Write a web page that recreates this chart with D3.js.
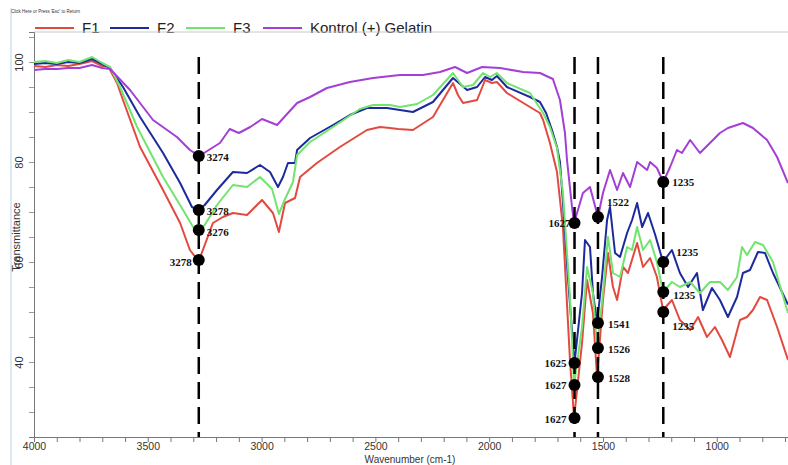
<!DOCTYPE html>
<html>
<head>
<meta charset="utf-8">
<script src="https://cdn.jsdelivr.net/npm/d3@7"></script>
<style>
  body { margin: 0; background: #fff; }
  svg { display: block; }
</style>
</head>
<body>
<div class="grap"></div>
<script>
// FTIR spectra, [wavenumber, transmittance]
const f1Data = [[4000,99.2],[3950,99.0],[3900,99.4],[3850,99.2],[3800,99.6],[3745,100.2],[3700,99.2],[3675,99.2],[3635,95.8],[3609,92.4],[3534,83],[3433,74.4],[3358,67.8],[3315,62.4],[3284,60.6],[3271,60.8],[3214,67.8],[3170,69],[3126,69.8],[3064,69.4],[2998,72.4],[2950,69.8],[2924,66],[2910,69],[2897,71.8],[2853,72.8],[2831,77],[2757,79.8],[2656,83],[2537,86.4],[2480,87],[2436,86.8],[2400,86.6],[2335,86.4],[2247,89],[2159,95.8],[2137,93.4],[2115,91.8],[2053,92.4],[2018,96.4],[1988,95.8],[1966,96],[1922,93.8],[1821,91],[1777,89.8],[1763,88.4],[1733,83.8],[1702,78],[1676,67],[1645,40.4],[1627,28.8],[1592,43.8],[1570,56.4],[1544,49.8],[1526,37],[1500,52.4],[1478,61.8],[1456,55],[1438,52.4],[1412,59],[1390,57.8],[1350,63.8],[1324,59],[1293,60.8],[1263,57],[1236,50.4],[1197,52.4],[1162,48.4],[1117,46.4],[1082,49],[1043,45],[1008,47],[977,44.4],[942,41],[898,48.4],[867,49],[841,50.4],[810,53],[779,52.4],[735,47],[687,40.4]];

const f2Data = [[4000,99.6],[3950,99.8],[3900,99.6],[3850,100],[3800,99.8],[3745,100.6],[3700,99.6],[3666,98.8],[3609,95],[3534,89],[3433,81.8],[3358,75.8],[3306,71],[3278,70.4],[3250,71.4],[3196,74.4],[3126,78],[3064,77.8],[3007,79.4],[2963,78],[2928,75],[2906,77],[2884,79.8],[2853,79.8],[2844,82.4],[2787,84.8],[2686,87.4],[2612,89.4],[2537,90.8],[2449,90.8],[2392,90.4],[2335,90],[2247,92],[2159,96.8],[2097,94.4],[2053,95],[2018,97],[1988,96.4],[1966,97.2],[1922,95],[1821,93],[1777,92],[1750,89.8],[1724,86.4],[1702,83],[1689,80],[1676,72],[1654,57],[1632,43.8],[1625,39.8],[1592,53.8],[1579,64.4],[1557,63],[1544,53.8],[1526,47.8],[1504,57],[1482,68.4],[1469,71],[1447,61.8],[1425,61],[1394,65.8],[1372,68.4],[1350,71.8],[1328,67],[1302,69.8],[1271,65.5],[1236,60],[1197,62.4],[1162,57.8],[1126,55],[1087,57.8],[1061,50.4],[1021,54.8],[986,52.4],[951,49],[911,53],[885,57.8],[854,58.4],[819,62],[788,61.8],[753,57.8],[687,51.5]];

const f3Data = [[4000,100],[3950,100.2],[3900,99.8],[3850,100.4],[3800,100],[3745,101],[3700,99.8],[3666,99],[3622,95],[3547,87],[3433,77],[3345,70.4],[3301,67],[3276,66.4],[3250,67.4],[3196,71.4],[3126,75.4],[3064,75],[3007,77],[2954,74.6],[2924,69.6],[2897,72.6],[2862,76],[2844,81.4],[2787,84],[2686,87],[2568,90.6],[2510,91.4],[2436,91.4],[2392,91],[2317,91.6],[2247,93.4],[2159,97.8],[2115,95],[2071,95.4],[2027,97.8],[1996,97],[1966,97.8],[1922,95.8],[1821,93.8],[1763,89.8],[1733,87],[1702,82.8],[1676,74],[1645,53],[1627,35.4],[1592,47],[1570,59],[1544,53.8],[1526,42.8],[1500,53.8],[1478,65],[1456,57.8],[1425,57],[1394,63],[1372,62.4],[1350,67],[1324,62.4],[1293,64.4],[1263,60],[1236,54],[1197,56],[1162,55],[1117,56],[1074,53.8],[1030,56],[986,56],[951,54.4],[911,57],[889,63],[867,61.4],[832,64],[797,63.4],[753,60],[687,49.8]];

const kontrolData = [[4000,98.4],[3950,98.6],[3900,98.6],[3850,98.8],[3800,98.8],[3745,99.4],[3700,98.8],[3666,98.6],[3578,94.4],[3477,88.4],[3372,85],[3315,82.4],[3274,81.2],[3183,83.8],[3140,86.6],[3100,85.8],[3050,87],[2998,88.6],[2932,87.4],[2884,89.8],[2844,91.8],[2787,93],[2713,94.8],[2612,96],[2510,96.8],[2392,97.4],[2291,97.4],[2216,98],[2150,99],[2097,97.8],[2031,99],[1952,98.8],[1851,98],[1777,97.8],[1720,96.6],[1689,92.4],[1667,85.8],[1658,80.4],[1636,71],[1627,67.8],[1588,73.8],[1557,75],[1522,69],[1500,73.8],[1469,78.4],[1438,74.4],[1412,77.8],[1381,75],[1350,80],[1306,78.4],[1293,80],[1263,78.8],[1235,76],[1205,79],[1175,82.4],[1153,81.8],[1117,84.4],[1074,81.8],[1030,83.8],[986,85.8],[951,86.8],[885,87.8],[841,86.8],[779,84.4],[735,81],[687,75.8]];

const seriesNames = ['F1', 'F2', 'F3', 'Kontrol (+) Gelatin'];
const seriesData = [f1Data, f2Data, f3Data, kontrolData];
const seriesColors = ['#e24a40', '#1c2a9c', '#72e46e', '#a43fd6'];

// marked peaks: dashed line positions and one dot per series on each
const peakLines = [3276, 1625, 1522, 1235];
const peakValues = [
  [60.4, 70.4, 66.4, 81.2],   // F1, F2, F3, Kontrol at 3276 line
  [28.8, 39.8, 35.4, 67.8],
  [37.0, 47.8, 42.8, 69.0],
  [50.0, 60.0, 54.0, 76.0]
];
const peakLabels = [
  ['3278', '3278', '3276', '3274'],
  ['1627', '1625', '1627', '1627'],
  ['1528', '1541', '1526', '1522'],
  ['1235', '1235', '1235', '1235']
];

const xTickValues = d3.range(4000, 686, -100);
const xLabelValues = [4000, 3500, 3000, 2500, 2000, 1500, 1000];
const yTickValues = d3.range(30, 106, 5);
const yLabelValues = [40, 60, 80, 100];

// label placement [dx, dy, anchor] per line / series
const labelPlace = [
  [[-7, 6, 'end'], [8, 5, 'start'], [8, 6, 'start'], [8, 5, 'start']],
  [[-8, 5, 'end'], [-8, 4, 'end'], [-8, 4, 'end'], [-4, 4, 'end']],
  [[10, 5, 'start'], [10, 5, 'start'], [10, 5, 'start'], [9, -11, 'start']],
  [[9, 18, 'start'], [13, -6, 'start'], [10, 7, 'start'], [9, 4, 'start']]
];

const W = 788, H = 465;
const margin = { top: 32, left: 34, bottom: 437, right: 788 };

const svg = d3.select(".grap").append("svg").attr("width", W).attr("height", H);

const x = d3.scaleLinear().domain([4000, 687]).range([margin.left, margin.right]);
const y = d3.scaleLinear().domain([25, 106]).range([margin.bottom, margin.top]);

// outer frame bits
svg.append("line").attr("x1", 11).attr("x2", 11).attr("y1", 8).attr("y2", H)
  .attr("stroke", "#b9d3e6").attr("stroke-width", 1);
svg.append("text").attr("x", 11).attr("y", 13)
  .attr("font-family", "Liberation Sans, Arial, sans-serif").attr("font-size", 4.5)
  .attr("fill", "#333").text("Click Here or Press 'Esc' to Return");

// legend
const legend = svg.append("g");
const legendX = [35, 110, 186, 263];
seriesNames.forEach((name, i) => {
  legend.append("line").attr("x1", legendX[i]).attr("x2", legendX[i] + 39)
    .attr("y1", 28).attr("y2", 28)
    .attr("stroke", seriesColors[i]).attr("stroke-width", 2);
  legend.append("text").attr("x", legendX[i] + 47).attr("y", 33)
    .attr("font-family", "Liberation Sans, Arial, sans-serif").attr("font-size", 15)
    .attr("fill", "#222").text(name);
});

// plot box
svg.append("line").attr("x1", margin.left).attr("x2", W).attr("y1", margin.top).attr("y2", margin.top)
  .attr("stroke", "#c8c8c8");

// axes
const xAxis = g => g
  .attr("transform", `translate(0,${margin.bottom})`)
  .call(d3.axisBottom(x).tickValues(xTickValues).tickSize(5)
    .tickFormat(d => xLabelValues.includes(d) ? d : ""))
  .call(g => g.select(".domain").attr("stroke", "#777"))
  .call(g => g.selectAll(".tick line").attr("stroke", "#777"))
  .call(g => g.selectAll(".tick text").attr("fill", "#333").attr("y", 13).attr("dy", 0)
    .attr("font-family", "Liberation Sans, Arial, sans-serif").attr("font-size", 10.5));

const yAxis = g => g
  .attr("transform", `translate(${margin.left},0)`)
  .call(d3.axisLeft(y).tickValues(yTickValues).tickSize(5)
    .tickFormat(d => yLabelValues.includes(d) ? d : ""))
  .call(g => g.select(".domain").attr("stroke", "#777"))
  .call(g => g.selectAll(".tick line").attr("stroke", "#999"))
  .call(g => g.selectAll(".tick text").attr("fill", "#333")
    .attr("font-family", "Liberation Sans, Arial, sans-serif").attr("font-size", 11)
    .attr("text-anchor", "middle").attr("x", 0).attr("dy", 0)
    .attr("transform", "translate(-11,0) rotate(-90)"));

svg.append("g").call(xAxis);
svg.append("g").call(yAxis);

svg.append("text").attr("x", 410).attr("y", 463).attr("text-anchor", "middle")
  .attr("font-family", "Liberation Sans, Arial, sans-serif").attr("font-size", 10)
  .attr("fill", "#333").text("Wavenumber (cm-1)");
svg.append("text").attr("transform", "translate(20,237) rotate(-90)").attr("text-anchor", "middle")
  .attr("font-family", "Liberation Sans, Arial, sans-serif").attr("font-size", 11)
  .attr("fill", "#333").text("Transmittance");

// curves
svg.append("clipPath").attr("id", "clip").append("rect")
  .attr("x", margin.left).attr("y", margin.top)
  .attr("width", margin.right - margin.left).attr("height", margin.bottom - margin.top);

const line = d3.line().x(d => x(d[0])).y(d => y(d[1]));

const curves = svg.append("g").attr("clip-path", "url(#clip)");
seriesData.forEach((data, i) => {
  curves.append("path").datum(data)
    .attr("fill", "none")
    .attr("stroke", seriesColors[i])
    .attr("stroke-width", 2)
    .attr("stroke-linejoin", "round")
    .attr("d", line);
});

// dashed marker lines, dots and labels
const marks = svg.append("g");
peakLines.forEach((wn, li) => {
  marks.append("line")
    .attr("x1", x(wn)).attr("x2", x(wn))
    .attr("y1", y(101)).attr("y2", margin.bottom)
    .attr("stroke", "#000").attr("stroke-width", 2.5)
    .attr("stroke-dasharray", "17,8");
  peakValues[li].forEach((v, si) => {
    marks.append("circle").attr("cx", x(wn)).attr("cy", y(v)).attr("r", 6).attr("fill", "#000");
    const p = labelPlace[li][si];
    marks.append("text")
      .attr("x", x(wn) + p[0]).attr("y", y(v) + p[1])
      .attr("text-anchor", p[2])
      .attr("font-family", "Liberation Serif, Times New Roman, serif")
      .attr("font-weight", "bold").attr("font-size", 11)
      .attr("fill", "#111").text(peakLabels[li][si]);
  });
});
</script>
</body>
</html>
